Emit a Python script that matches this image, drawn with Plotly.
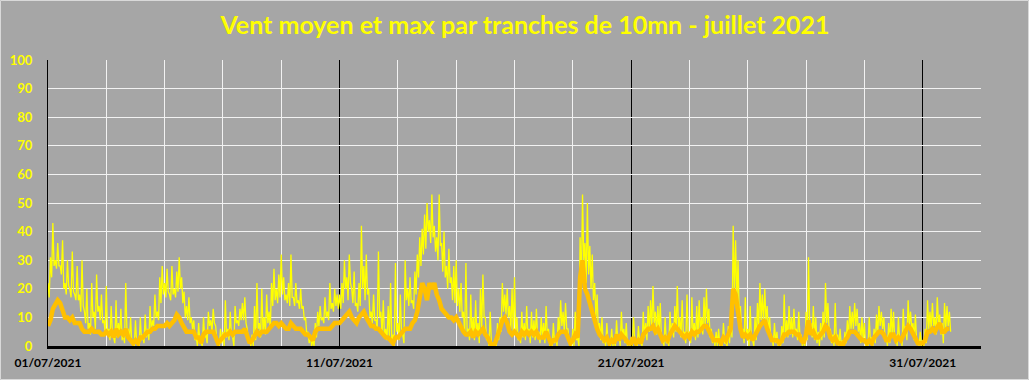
import pandas as pd
import plotly.graph_objects as go

# Max wind, hourly samples (24 per day, 1 to 31 July 2021)
vent_max = [
    22, 17, 31, 24, 43, 28, 30, 27, 36, 28, 28, 25, 37, 20, 22, 18, 30, 21, 20, 17, 33, 19, 18, 16,
    28, 16, 18, 12, 30, 14, 12, 8, 20, 6, 8, 4, 22, 10, 12, 6, 25, 12, 14, 9, 18, 8, 9, 5,
    21, 4, 6, 2, 14, 5, 3, 1, 16, 3, 8, 4, 13, 2, 4, 1, 22, 5, 6, 2, 10, 1, 2, 0,
    9, 1, 2, 0, 10, 2, 4, 1, 11, 3, 6, 2, 14, 5, 9, 7, 18, 10, 12, 9, 24, 15, 28, 18,
    22, 17, 27, 19, 18, 16, 28, 18, 20, 17, 26, 19, 31, 20, 24, 15, 19, 10, 14, 9, 17, 8, 10, 6,
    9, 2, 3, 0, 8, 1, 1, 0, 10, 3, 4, 1, 12, 7, 9, 5, 13, 8, 7, 2, 2, 0, 6, 1,
    5, 0, 16, 3, 6, 2, 12, 4, 3, 0, 14, 8, 9, 7, 13, 9, 15, 9, 17, 8, 6, 1, 2, 0,
    4, 0, 14, 2, 22, 6, 8, 3, 20, 5, 10, 4, 18, 8, 12, 6, 22, 14, 27, 16, 20, 15, 25, 17,
    32, 18, 24, 16, 18, 15, 22, 14, 32, 17, 17, 14, 22, 15, 16, 13, 20, 13, 14, 9, 10, 4, 5, 1,
    4, 0, 2, 0, 8, 3, 12, 7, 14, 9, 10, 8, 17, 10, 12, 9, 22, 13, 15, 12, 20, 14, 18, 13,
    18, 13, 22, 15, 30, 20, 24, 16, 32, 22, 20, 15, 26, 14, 15, 12, 22, 14, 42, 20, 28, 16, 32, 18,
    20, 10, 12, 8, 18, 9, 9, 6, 33, 10, 12, 4, 16, 3, 6, 2, 14, 3, 22, 2, 4, 0, 29, 5,
    8, 2, 18, 5, 4, 1, 30, 16, 20, 14, 24, 15, 16, 13, 26, 18, 32, 24, 38, 28, 41, 32, 46, 34,
    50, 40, 44, 36, 53, 38, 42, 33, 38, 30, 53, 35, 36, 26, 40, 24, 28, 20, 34, 22, 24, 16, 28, 15,
    30, 14, 20, 12, 22, 10, 12, 4, 29, 5, 6, 2, 18, 3, 10, 2, 16, 4, 8, 1, 20, 6, 25, 10,
    10, 2, 4, 0, 12, 1, 1, 0, 2, 0, 8, 2, 10, 5, 22, 12, 18, 11, 20, 10, 14, 6, 20, 5,
    24, 5, 10, 2, 4, 1, 12, 3, 8, 2, 14, 4, 6, 1, 12, 3, 9, 2, 13, 4, 5, 1, 10, 3,
    8, 1, 14, 4, 6, 0, 2, 0, 8, 1, 3, 0, 10, 4, 16, 7, 12, 5, 15, 6, 6, 1, 2, 0,
    6, 0, 12, 2, 3, 0, 38, 20, 53, 30, 36, 22, 50, 25, 35, 20, 32, 16, 22, 10, 18, 5, 8, 2,
    10, 1, 3, 0, 8, 1, 1, 0, 6, 0, 2, 0, 9, 2, 4, 0, 12, 3, 6, 1, 8, 0, 2, 0,
    3, 0, 10, 2, 2, 0, 7, 1, 1, 0, 12, 3, 8, 2, 14, 5, 16, 6, 21, 8, 12, 4, 14, 5,
    15, 2, 3, 0, 10, 1, 2, 0, 12, 4, 8, 3, 14, 5, 21, 6, 10, 3, 16, 4, 5, 1, 18, 4,
    5, 1, 17, 4, 8, 2, 14, 3, 16, 5, 10, 4, 17, 7, 20, 8, 13, 3, 6, 1, 3, 0, 5, 0,
    6, 0, 2, 0, 8, 1, 1, 0, 7, 1, 10, 3, 42, 18, 37, 15, 30, 10, 14, 4, 6, 1, 17, 3,
    6, 0, 14, 3, 2, 0, 10, 2, 15, 6, 22, 9, 18, 8, 20, 9, 14, 4, 10, 2, 3, 0, 8, 1,
    5, 0, 2, 0, 7, 1, 18, 3, 9, 3, 14, 4, 10, 3, 13, 5, 6, 2, 12, 3, 4, 0, 2, 0,
    12, 2, 31, 6, 8, 3, 14, 2, 10, 1, 5, 0, 8, 2, 12, 3, 22, 8, 15, 5, 6, 1, 4, 0,
    15, 1, 4, 0, 6, 0, 2, 0, 5, 1, 9, 3, 14, 6, 12, 6, 15, 7, 13, 5, 8, 1, 10, 2,
    8, 0, 2, 0, 10, 1, 3, 0, 6, 1, 11, 4, 14, 7, 12, 6, 10, 3, 3, 0, 8, 1, 13, 3,
    12, 2, 4, 0, 10, 2, 3, 0, 13, 4, 7, 2, 16, 7, 12, 6, 8, 2, 11, 2, 2, 0, 5, 0,
    2, 0, 6, 1, 16, 6, 12, 6, 15, 7, 10, 4, 17, 8, 11, 4, 8, 1, 15, 6, 14, 7, 12, 5,
]

# Mean wind, 2-hour samples (12 per day)
vent_moyen = [
    7, 9, 13, 15, 16, 15, 12, 10, 10, 9, 10, 8,
    8, 8, 6, 5, 5, 5, 6, 5, 5, 5, 4, 4,
    5, 4, 5, 3, 6, 4, 5, 4, 6, 3, 2, 1,
    2, 1, 3, 3, 4, 5, 5, 6, 6, 7, 7, 7,
    7, 8, 7, 8, 9, 11, 10, 8, 6, 5, 5, 5,
    5, 3, 3, 1, 4, 5, 5, 5, 5, 3, 1, 2,
    3, 4, 4, 5, 4, 5, 5, 5, 5, 6, 3, 1,
    2, 4, 5, 4, 5, 5, 5, 6, 7, 8, 8, 7,
    8, 7, 6, 6, 8, 7, 6, 6, 6, 5, 4, 4,
    3, 2, 5, 6, 6, 6, 6, 6, 6, 7, 8, 8,
    8, 9, 10, 11, 12, 10, 9, 8, 10, 11, 12, 10,
    8, 7, 7, 6, 6, 5, 4, 3, 3, 2, 1, 3,
    3, 4, 5, 6, 6, 6, 8, 9, 12, 17, 22, 20,
    16, 22, 20, 22, 18, 16, 13, 12, 11, 10, 10, 9,
    10, 8, 7, 5, 4, 4, 5, 3, 5, 4, 5, 6,
    4, 3, 1, 0, 1, 3, 6, 9, 10, 8, 5, 4,
    5, 4, 3, 5, 4, 5, 4, 5, 4, 5, 3, 3,
    3, 5, 3, 1, 2, 2, 4, 5, 5, 5, 3, 1,
    2, 4, 3, 24, 30, 20, 18, 15, 11, 8, 6, 4,
    3, 2, 3, 1, 2, 1, 4, 2, 4, 3, 2, 1,
    1, 3, 1, 2, 1, 4, 5, 6, 6, 7, 5, 6,
    4, 2, 3, 2, 4, 6, 7, 6, 5, 4, 3, 4,
    3, 5, 4, 5, 5, 6, 7, 7, 5, 3, 2, 2,
    2, 1, 3, 2, 4, 6, 20, 18, 12, 6, 3, 4,
    3, 4, 2, 4, 5, 7, 8, 9, 6, 4, 2, 2,
    2, 1, 2, 4, 4, 5, 5, 5, 4, 4, 2, 1,
    4, 9, 4, 5, 3, 3, 4, 5, 7, 6, 3, 2,
    3, 1, 1, 0, 2, 3, 5, 5, 5, 4, 3, 2,
    2, 1, 2, 1, 3, 4, 5, 5, 4, 2, 2, 4,
    4, 2, 3, 2, 4, 6, 7, 6, 4, 3, 1, 1,
    1, 2, 5, 5, 6, 5, 7, 8, 5, 5, 6, 6,
]

tick_dates = ["2021-07-01", "2021-07-11", "2021-07-21", "2021-07-31"]
tick_labels = ["01/07/2021", "11/07/2021", "21/07/2021", "31/07/2021"]
title_text = "Vent moyen et max par tranches de 10mn - juillet 2021"

times_max = pd.date_range("2021-07-01 00:00", periods=len(vent_max), freq="1h")
times_moy = pd.date_range("2021-07-01 00:00", periods=len(vent_moyen), freq="2h")

BG = "#a6a6a6"
FONT = "Lato"

fig = go.Figure()
fig.add_trace(go.Scatter(x=times_max, y=vent_max, mode="lines",
                         line=dict(color="#ffff00", width=1.3), name="max"))
fig.add_trace(go.Scatter(x=times_moy, y=vent_moyen, mode="lines",
                         line=dict(color="#ffc000", width=4.5), name="moyen"))

W, H = 1029, 380
ml, mr, mt, mb = 48, 48, 60, 34
pw, ph = W - ml - mr, H - mt - mb

fig.update_layout(
    width=W, height=H,
    paper_bgcolor=BG, plot_bgcolor=BG,
    margin=dict(l=ml, r=mr, t=mt, b=mb),
    showlegend=False,
    title=dict(text=title_text, x=525 / W, xanchor="center",
               y=1 - 25 / H, yanchor="middle",
               font=dict(family=FONT, size=25, color="#ffff00", weight="bold")),
    xaxis=dict(
        type="date", range=["2021-07-01", "2021-08-02"],
        tickvals=tick_dates, ticktext=tick_labels,
        showgrid=True, gridcolor="black", gridwidth=1,
        showline=True, linecolor="black", linewidth=3,
        ticks="", zeroline=False, ticklabelstandoff=4, automargin=False,
        tickfont=dict(family=FONT, size=12, color="black", weight="bold"),
        minor=dict(tick0="2021-07-01", dtick=2 * 86400000,
                   showgrid=True, gridcolor="#f2f2f2", gridwidth=1),
    ),
    yaxis=dict(
        range=[0, 100], dtick=10,
        showgrid=True, gridcolor="#f2f2f2", gridwidth=1,
        showline=True, linecolor="black", linewidth=1,
        ticks="", zeroline=False, ticklabelstandoff=12, automargin=False,
        tickfont=dict(family=FONT, size=13, color="#ffff00", weight="bold"),
    ),
    shapes=[dict(type="rect", xref="paper", yref="paper",
                 x0=(0.5 - ml) / pw, x1=(W - 0.5 - ml) / pw,
                 y0=(H - mb - (H - 0.5)) / ph, y1=(H - mb - 0.5) / ph,
                 line=dict(color="#d9d9d9", width=1), fillcolor="rgba(0,0,0,0)",
                 layer="below")],
)

fig.write_html("out.html", config={"displayModeBar": False},
               post_script="document.body.style.margin='0';document.body.style.padding='0';")
